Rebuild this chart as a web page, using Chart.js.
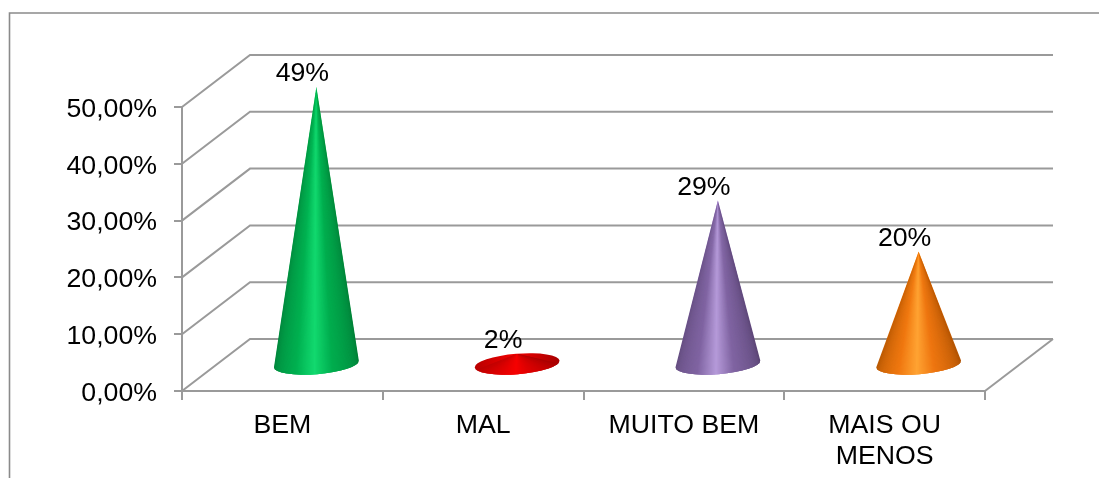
<!DOCTYPE html>
<html>
<head>
<meta charset="utf-8">
<script src="https://cdn.jsdelivr.net/npm/chart.js@4"></script>
<style>
    html, body { margin: 0; padding: 0; background: #fff; overflow: hidden; }
    #wrap { width: 1099px; height: 478px; }
</style>
</head>
<body>
<div id="wrap"><canvas id="myChart" width="1099" height="478"></canvas></div>
<script>
const categories = ['BEM', 'MAL', 'MUITO BEM', ['MAIS OU', 'MENOS']];
const values = [49, 2, 29, 20];
const valueLabels = ['49%', '2%', '29%', '20%'];
const tickValues = [0, 10, 20, 30, 40, 50];
const tickLabels = ['0,00%', '10,00%', '20,00%', '30,00%', '40,00%', '50,00%'];

// left edge, mid, highlight, mid, right edge
const conePalettes = [
    ['#00863d', '#00b050', '#12d96f', '#00ad4e', '#007f39'],
    ['#b80000', '#e00000', '#f60000', '#dc0000', '#a60000'],
    ['#664f82', '#8064a2', '#b59ad9', '#8064a2', '#5c4776'],
    ['#b85a05', '#f07810', '#ffa333', '#ee7610', '#b05405']
];
const shadeStops = [0, 0.33, 0.48, 0.62, 1];

const lineColor = '#9a9a9a';
const frameColor = '#8a8a8a';
const fontSize = 26.7;
const depthX = 68;
const depthY = -52;
const coneRy = 10.2;
const coneTilt = -4.6 * Math.PI / 180;

function hexRgb(hex) {
    return [1, 3, 5].map(i => parseInt(hex.substr(i, 2), 16));
}

function shade(palette, t) {
    let i = 0;
    while (i < shadeStops.length - 2 && t > shadeStops[i + 1]) i++;
    const f = (t - shadeStops[i]) / (shadeStops[i + 1] - shadeStops[i]);
    const a = hexRgb(palette[i]);
    const b = hexRgb(palette[i + 1]);
    const c = a.map((v, k) => Math.round(v + (b[k] - v) * f));
    return 'rgb(' + c.join(',') + ')';
}

function drawCone(ctx, el, palette) {
    const cx = el.x + depthX / 2;
    const cy = el.base + depthY / 2;
    const tipX = cx;
    const tipY = el.y + depthY / 2;
    const rx = el.width / 2;
    const cos = Math.cos(coneTilt);
    const sin = Math.sin(coneTilt);
    const rimPoint = a => ({
        x: cx + rx * Math.cos(a) * cos - coneRy * Math.sin(a) * sin,
        y: cy + rx * Math.cos(a) * sin + coneRy * Math.sin(a) * cos
    });

    ctx.save();
    ctx.beginPath();
    ctx.ellipse(cx, cy, rx, coneRy, coneTilt, 0, Math.PI * 2);
    ctx.moveTo(tipX, tipY);
    const r = rimPoint(0);
    const l = rimPoint(Math.PI);
    ctx.lineTo(r.x, r.y);
    ctx.lineTo(l.x, l.y);
    ctx.closePath();
    // flat side-to-side shading underneath, covers the rim above the wedges
    const under = ctx.createLinearGradient(cx - rx, 0, cx + rx, 0);
    shadeStops.forEach((s, i) => under.addColorStop(s, palette[i]));
    ctx.fillStyle = under;
    ctx.fill('nonzero');
    ctx.clip('nonzero');

    // thin wedges from the tip to the rim, so the shine narrows toward the tip
    const steps = 120;
    for (let i = 0; i < steps; i++) {
        const p = rimPoint(Math.PI * (1 - i / steps));
        const q = rimPoint(Math.PI * (1 - (i + 1.5) / steps));
        ctx.beginPath();
        ctx.moveTo(tipX, tipY);
        ctx.lineTo(p.x, p.y + 3);
        ctx.lineTo(q.x, q.y + 3);
        ctx.closePath();
        ctx.fillStyle = shade(palette, (i + 0.5) / steps);
        ctx.fill();
    }
    ctx.restore();
}

const walls = {
    id: 'walls',
    beforeDatasetsDraw(chart) {
        const ctx = chart.ctx;
        const x = chart.scales.x;
        const y = chart.scales.y;
        ctx.save();
        // outer frame
        ctx.strokeStyle = frameColor;
        ctx.lineWidth = 1.6;
        ctx.beginPath();
        ctx.moveTo(9.5, 478);
        ctx.lineTo(9.5, 13);
        ctx.lineTo(1099, 13);
        ctx.stroke();
        // side wall and back wall grid
        ctx.strokeStyle = lineColor;
        ctx.lineWidth = 2;
        tickValues.forEach(v => {
            const py = y.getPixelForValue(v);
            ctx.beginPath();
            ctx.moveTo(x.left, py);
            ctx.lineTo(x.left + depthX, py + depthY);
            ctx.lineTo(x.right + depthX, py + depthY);
            ctx.stroke();
        });
        // floor right edge
        ctx.beginPath();
        ctx.moveTo(x.right, y.bottom);
        ctx.lineTo(x.right + depthX, y.bottom + depthY);
        ctx.stroke();
        ctx.restore();
    }
};

const cones = {
    id: 'cones',
    afterDatasetsDraw(chart) {
        const ctx = chart.ctx;
        const bars = chart.getDatasetMeta(0).data;
        bars.forEach((el, i) => drawCone(ctx, el, conePalettes[i]));
        ctx.save();
        ctx.fillStyle = '#000';
        ctx.font = fontSize + 'px "Liberation Sans"';
        ctx.textAlign = 'center';
        ctx.textBaseline = 'middle';
        bars.forEach((el, i) => {
            ctx.fillText(valueLabels[i], el.x + depthX / 2 - 14, el.y + depthY / 2 - 13);
        });
        ctx.restore();
    }
};

const data = {
    labels: categories,
    datasets: [{
        label: 'Respostas',
        data: values,
        backgroundColor: 'rgba(0,0,0,0)',
        borderWidth: 0,
        barPercentage: 0.424,
        categoryPercentage: 1
    }]
};

const config = {
    type: 'bar',
    data: data,
    plugins: [walls, cones],
    options: {
        responsive: false,
        animation: false,
        layout: { padding: { top: 107, right: 114, left: 0, bottom: 0 } },
        plugins: {
            legend: { display: false },
            tooltip: { enabled: false }
        },
        scales: {
            x: {
                afterFit(scale) { scale.height = 87; },
                border: { display: true, color: lineColor, width: 2 },
                grid: { drawOnChartArea: false, drawTicks: true, tickLength: 9, color: lineColor, lineWidth: 2 },
                ticks: {
                    color: '#000',
                    font: { family: 'Liberation Sans', size: fontSize, lineHeight: 1.17 },
                    padding: 10,
                    maxRotation: 0,
                    autoSkip: false
                }
            },
            y: {
                min: 0,
                max: 50,
                afterFit(scale) { scale.width = 182; },
                border: { display: true, color: lineColor, width: 2 },
                grid: { drawOnChartArea: false, drawTicks: true, tickLength: 8, color: lineColor, lineWidth: 2 },
                ticks: {
                    stepSize: 10,
                    color: '#000',
                    font: { family: 'Liberation Sans', size: fontSize },
                    padding: 17,
                    labelOffset: 2.5,
                    callback: (v, i) => tickLabels[i]
                }
            }
        }
    }
};

window.onload = function () {
    const ctx = document.getElementById('myChart').getContext('2d');
    new Chart(ctx, config);
};
</script>
</body>
</html>
